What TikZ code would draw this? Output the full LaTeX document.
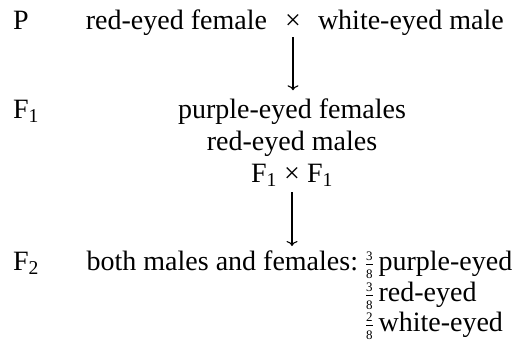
\documentclass[tikz,border=0pt]{standalone}
\usepackage{fontspec}
\setmainfont{Liberation Serif}
\usetikzlibrary{arrows.meta}
\newcommand{\smfrac}[2]{$\frac{\hbox{\fontsize{13}{13}\selectfont #1}}{\hbox{\fontsize{13}{13}\selectfont #2}}$}
\newcommand{\crossx}{\char"00D7}
\begin{document}
\begin{tikzpicture}[x=1pt,y=-1pt,
  txt/.style={inner sep=0pt,outer sep=0pt,font=\fontsize{28}{32}\selectfont},
  gen/.style={txt,anchor=base west},
  arr/.style={line width=1.1pt,-{To[length=5pt,width=11pt]}}]
\useasboundingbox (0,0) rectangle (529,362);
% generation labels
\node[gen] (P) at (13,29) {P};
\node[gen] (F1) at (13,118) {F\textsubscript{1}};
\node[gen] (F2) at (13,270) {F\textsubscript{2}};
% P cross
\node[txt,anchor=base] (x1) at (293,29) {\crossx};
\node[txt,anchor=base east] (rf) at (267,29) {red-eyed female};
\node[txt,anchor=base west] (wm) at (318,29) {white-eyed male};
% F1
\node[txt,anchor=base] (pf) at (292,118) {purple-eyed females};
\node[txt,anchor=base] (rm) at (292,150) {red-eyed males};
\node[txt,anchor=base] (x2) at (292,182) {\crossx};
\node[txt,anchor=base east] (fa) at (277,182) {F\textsubscript{1}};
\node[txt,anchor=base west] (fb) at (307,182) {F\textsubscript{1}};
% F2
\node[txt,anchor=base east] (bm) at (358,270) {both males and females:};
\node[txt,anchor=base west] (r1) at (365,270) {\smfrac{3}{8}\,purple-eyed};
\node[txt,anchor=base west] (r2) at (365,301) {\smfrac{3}{8}\,red-eyed};
\node[txt,anchor=base west] (r3) at (365,331) {\smfrac{2}{8}\,white-eyed};
% arrows
\draw[arr] ([yshift=-8pt]x1.base) -- ([yshift=8pt]pf.north -| x1.base);
\draw[arr] ([yshift=-10pt]x2.base) -- ([yshift=24pt]bm.base -| x2.base);
\end{tikzpicture}
\end{document}
